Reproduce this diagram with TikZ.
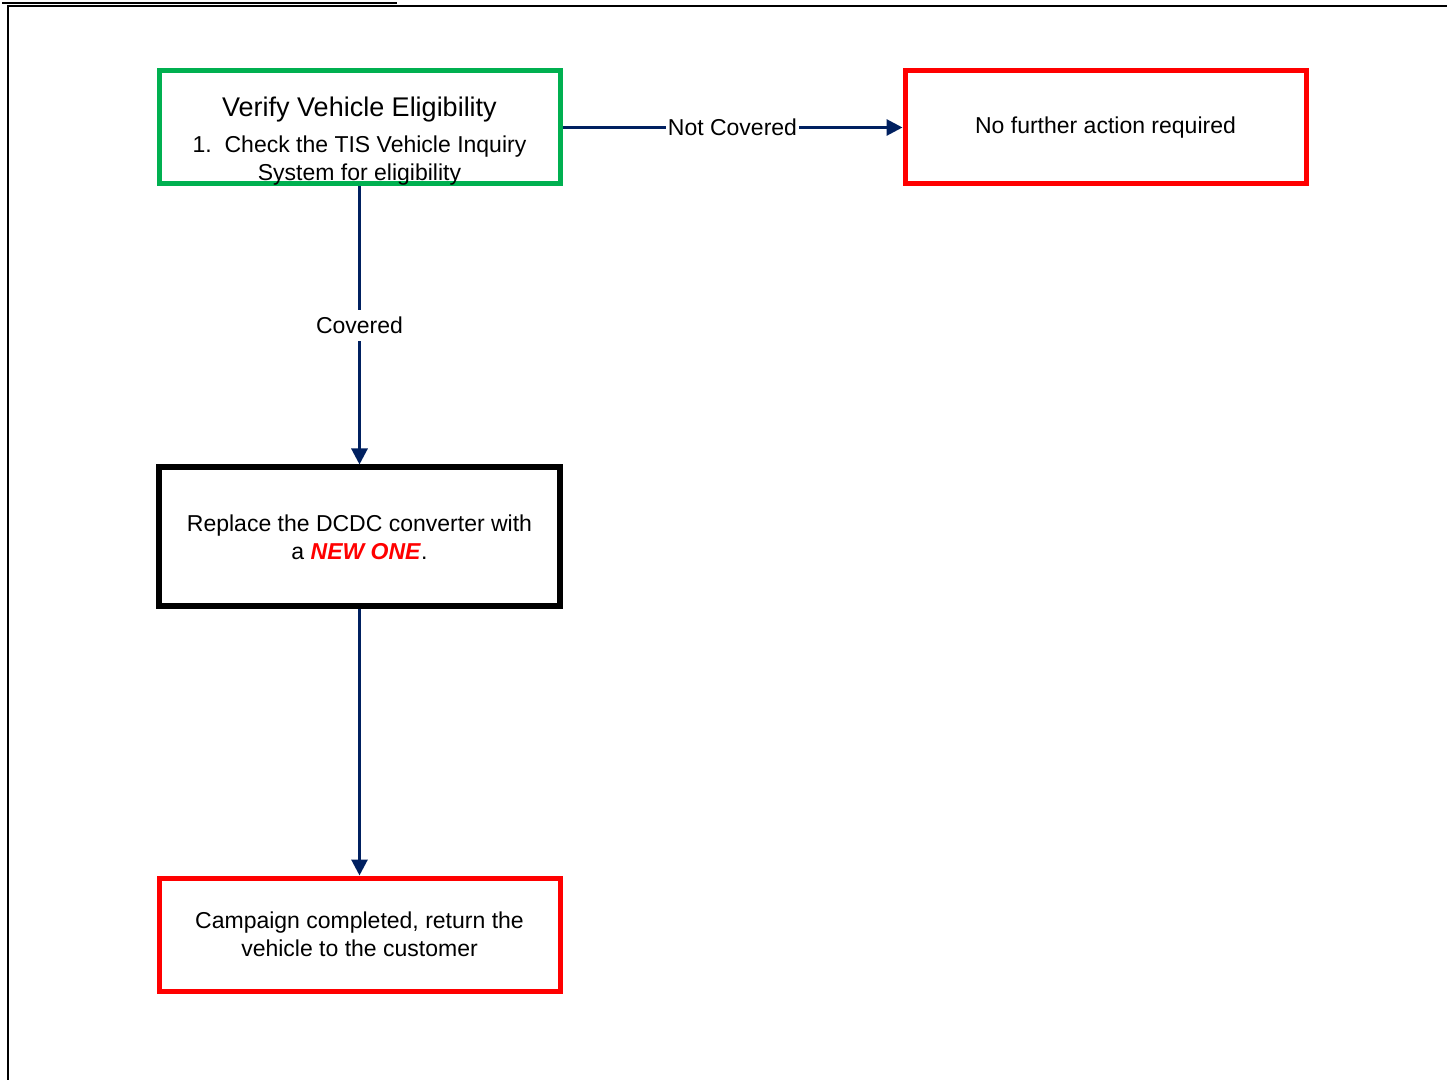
\documentclass[tikz,border=0pt]{standalone}
\usepackage{fontspec}
\setmainfont{Liberation Sans}
\usetikzlibrary{arrows.meta, positioning}
\definecolor{navy}{HTML}{002060}
\definecolor{okgreen}{HTML}{00B050}

\begin{document}
\begin{tikzpicture}[every node/.style={font={\fontsize{11.5}{14}\selectfont}}, >={Triangle[length=8pt,width=8pt]}, line width=1.5pt,
    box/.style={draw, line width=2.5pt, minimum width=200.5pt, minimum height=56.5pt, align=center}]
    \useasboundingbox (0,0) rectangle (723.5pt,-540pt);
    % page frame and cut-off heading rule
    \draw[line width=1pt] (4pt,-540pt) |- (723.5pt,-3pt);
    \draw[line width=0.75pt] (1pt,-1.5pt) -- (198.5pt,-1.5pt);

    \node[box, draw=okgreen] (verify) at (179.75pt,-63.75pt) {};
    \node[align=center] (verifytext) at ([yshift=-7pt]verify.center) {{\fontsize{13.5}{16}\selectfont Verify Vehicle Eligibility}\\[4pt]1.\ \ Check the TIS Vehicle Inquiry\\System for eligibility};
    \node[box, draw=red] (nofurther) [right=170pt of verify] {No further action required};
    \node[box, draw=black, line width=3pt, minimum height=69.5pt] (replace) [below=139pt of verify] {Replace the DCDC converter with\\a \textcolor{red}{\textbf{\textit{NEW ONE}}}.};
    \node[box, draw=red] (done) [below=133pt of replace] {Campaign completed, return the\\vehicle to the customer};

    \draw[->, navy] (verify) -- node[fill=white, inner sep=1pt, text=black] {Not Covered} (nofurther);
    \draw[->, navy] (verify) -- node[fill=white, text=black] {Covered} (replace);
    \draw[->, navy] (replace) -- (done);
\end{tikzpicture}
\end{document}
